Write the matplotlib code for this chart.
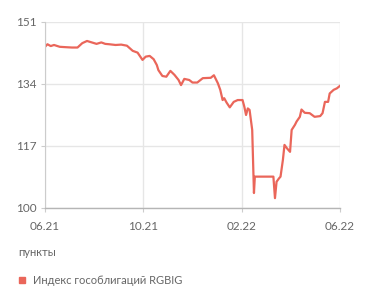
import matplotlib
matplotlib.use("Agg")
import matplotlib.pyplot as plt
from matplotlib.patches import Rectangle
import calendar

dates = [
    "2021-06-01", "2021-06-04", "2021-06-08", "2021-06-12", "2021-06-19", "2021-06-26",
    "2021-07-04", "2021-07-11", "2021-07-17", "2021-07-23", "2021-07-29", "2021-08-04",
    "2021-08-10", "2021-08-15", "2021-08-20", "2021-08-28", "2021-09-04", "2021-09-11",
    "2021-09-18", "2021-09-24", "2021-09-30", "2021-10-04", "2021-10-09", "2021-10-14",
    "2021-10-18", "2021-10-20", "2021-10-25", "2021-10-30", "2021-11-04", "2021-11-09",
    "2021-11-14", "2021-11-17", "2021-11-21", "2021-11-27", "2021-12-01", "2021-12-07",
    "2021-12-14", "2021-12-24", "2021-12-28", "2022-01-02", "2022-01-05", "2022-01-08",
    "2022-01-10", "2022-01-13", "2022-01-17", "2022-01-22", "2022-01-27", "2022-02-02",
    "2022-02-04", "2022-02-06", "2022-02-08", "2022-02-10", "2022-02-13", "2022-02-15",
    "2022-02-16", "2022-03-10", "2022-03-12", "2022-03-14", "2022-03-17", "2022-03-19",
    "2022-03-22", "2022-03-24", "2022-03-27", "2022-03-31", "2022-04-02", "2022-04-06",
    "2022-04-08", "2022-04-12", "2022-04-14", "2022-04-18", "2022-04-24", "2022-04-30",
    "2022-05-07", "2022-05-10", "2022-05-13", "2022-05-17", "2022-05-19", "2022-05-24",
    "2022-05-28", "2022-06-01",
]
values = [
    144.2, 144.9, 144.4, 144.7, 144.2, 144.1,
    144.0, 144.0, 145.2, 145.8, 145.4, 145.0,
    145.4, 145.0, 144.9, 144.7, 144.8, 144.5,
    143.1, 142.6, 140.6, 141.5, 141.7, 140.8,
    139.2, 137.8, 136.2, 136.0, 137.6, 136.5,
    135.1, 133.7, 135.4, 135.1, 134.4, 134.4,
    135.6, 135.7, 136.4, 134.2, 132.4, 129.6,
    130.1, 128.9, 127.6, 129.1, 129.6, 129.6,
    127.8, 125.5, 127.3, 126.9, 121.4, 104.1,
    108.6, 108.6, 102.7, 107.2, 108.1, 108.6,
    113.2, 117.3, 116.4, 115.4, 121.4, 122.8,
    123.7, 125.0, 127.0, 126.1, 126.0, 125.0,
    125.2, 126.0, 129.1, 129.1, 131.4, 132.4,
    132.8, 133.5,
]
y_ticks = [100, 117, 134, 151]
x_tick_labels = ["06.21", "10.21", "02.22", "06.22"]
unit_label = "пункты"
series_name = "Индекс гособлигаций RGBIG"


def month_pos(s):
    y, m, d = (int(p) for p in s.split("-"))
    return (y - 2021) * 12 + (m - 6) + (d - 1) / calendar.monthrange(y, m)[1]


xs = [month_pos(d) for d in dates]
x_ticks = [month_pos("20" + lbl[3:] + "-" + lbl[:2] + "-01") for lbl in x_tick_labels]

line_color = "#EA665A"
text_color = "#666666"

fig = plt.figure(figsize=(3.71, 3.02), dpi=100)
ax = fig.add_axes([45 / 371, 1 - 208 / 302, 295 / 371, 186 / 302])
ax.plot(xs, values, color=line_color, lw=1.6, solid_joinstyle="round")
ax.set_xlim(x_ticks[0], x_ticks[-1])
ax.set_ylim(100, 151)
ax.set_xticks(x_ticks)
ax.set_xticklabels(x_tick_labels)
ax.set_yticks(y_ticks)
ax.grid(True, color="#e6e6e6", lw=1.0)
ax.set_axisbelow(True)
for side in ["top", "right"]:
    ax.spines[side].set_visible(False)
ax.spines["left"].set_color("#cccccc")
ax.spines["bottom"].set_color("#b5b5b5")
ax.spines["bottom"].set_linewidth(1.0)
ax.tick_params(axis="both", length=3, color="#cccccc", labelsize=8.5,
               labelcolor=text_color)
ax.tick_params(axis="x", pad=6)
ax.tick_params(axis="y", pad=3)
for lbl in ax.get_xticklabels() + ax.get_yticklabels():
    lbl.set_family("Lato")

fig.text(18 / 371, 1 - 253 / 302, unit_label, fontsize=8, color=text_color,
         family="Lato", va="center", ha="left")
fig.patches.append(Rectangle((19 / 371, 1 - 283 / 302), 6 / 371, 6 / 302,
                             transform=fig.transFigure, color=line_color))
fig.text(33 / 371, 1 - 280 / 302, series_name, fontsize=8, color=text_color,
         family="Lato", va="center", ha="left")

fig.savefig("out.png", dpi=100)
